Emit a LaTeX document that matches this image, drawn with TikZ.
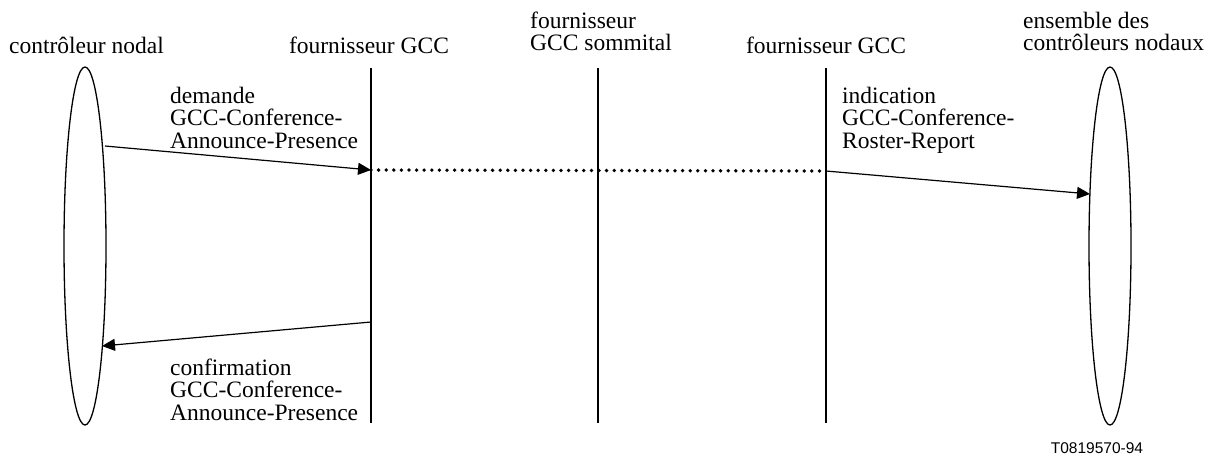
\documentclass[tikz,border=0pt]{standalone}
\usepackage{fontspec}
\setmainfont{Liberation Serif}
\newfontfamily\codefont{Liberation Sans}
\usetikzlibrary{shapes.geometric,arrows.meta}
\begin{document}
\begin{tikzpicture}[x=1pt,y=-1pt,
  lbl/.style={inner sep=0pt,font=\fontsize{23.5}{22.5}\selectfont},
  mlbl/.style={lbl,align=left,anchor=north west},
  party/.style={draw,ellipse,line width=1.3pt,minimum width=42pt,minimum height=358pt,inner sep=0pt},
  lifeline/.style={line width=1.3pt},
  msg/.style={line width=1.2pt,-{Triangle[length=13pt,width=12pt]}},
  relay/.style={line width=3.8pt,line cap=round,dash pattern=on 0pt off 7.6pt}]
  \useasboundingbox (0,0) rectangle (1206,456);

  % the two end parties
  \node[party] (cn) at (85,246) {};
  \node[party] (en) at (1110,246) {};

  % lifelines of the three GCC providers
  \coordinate (p1t) at (371,68);  \coordinate (p1b) at (371,423);
  \coordinate (p2t) at (598,68);  \coordinate (p2b) at (598,423);
  \coordinate (p3t) at (826,68);  \coordinate (p3b) at (826,423);
  \draw[lifeline] (p1t) -- (p1b);
  \draw[lifeline] (p2t) -- (p2b);
  \draw[lifeline] (p3t) -- (p3b);

  % column headings
  \node[lbl,anchor=base] (h1) at (86.5,53) {contrôleur nodal};
  \node[lbl,anchor=base] (h2) at (369,53) {fournisseur GCC};
  \node[mlbl] (h3) at (530,11.5) {fournisseur\\GCC sommital};
  \node[lbl,anchor=base] (h4) at (826,53) {fournisseur GCC};
  \node[mlbl] (h5) at (1023,11.5) {ensemble des\\contrôleurs nodaux};

  % message end points
  \coordinate (m1s) at (105,146);  \coordinate (m1e) at (371,170);
  \coordinate (m3s) at (826,171);  \coordinate (m3e) at (1090,194);
  \coordinate (m2s) at (371,322);  \coordinate (m2e) at (102,346);

  % request, relay through the top provider, indication, confirm
  \draw[msg] (m1s) -- (m1e);
  \draw[relay] (m1e) -- (m3s);
  \draw[msg] (m3s) -- (m3e);
  \draw[msg] (m2s) -- (m2e);

  % message labels
  \node[mlbl] (l1) at (170,86.5) {demande\\GCC-Conference-\\Announce-Presence};
  \node[mlbl] (l3) at (842,86.5) {indication\\GCC-Conference-\\Roster-Report};
  \node[mlbl] (l2) at (170,358.5) {confirmation\\GCC-Conference-\\Announce-Presence};

  % figure reference
  \node[inner sep=0pt,anchor=base,font=\codefont\fontsize{15.5}{18}\selectfont] (ref) at (1097,453) {T0819570-94};
\end{tikzpicture}
\end{document}
